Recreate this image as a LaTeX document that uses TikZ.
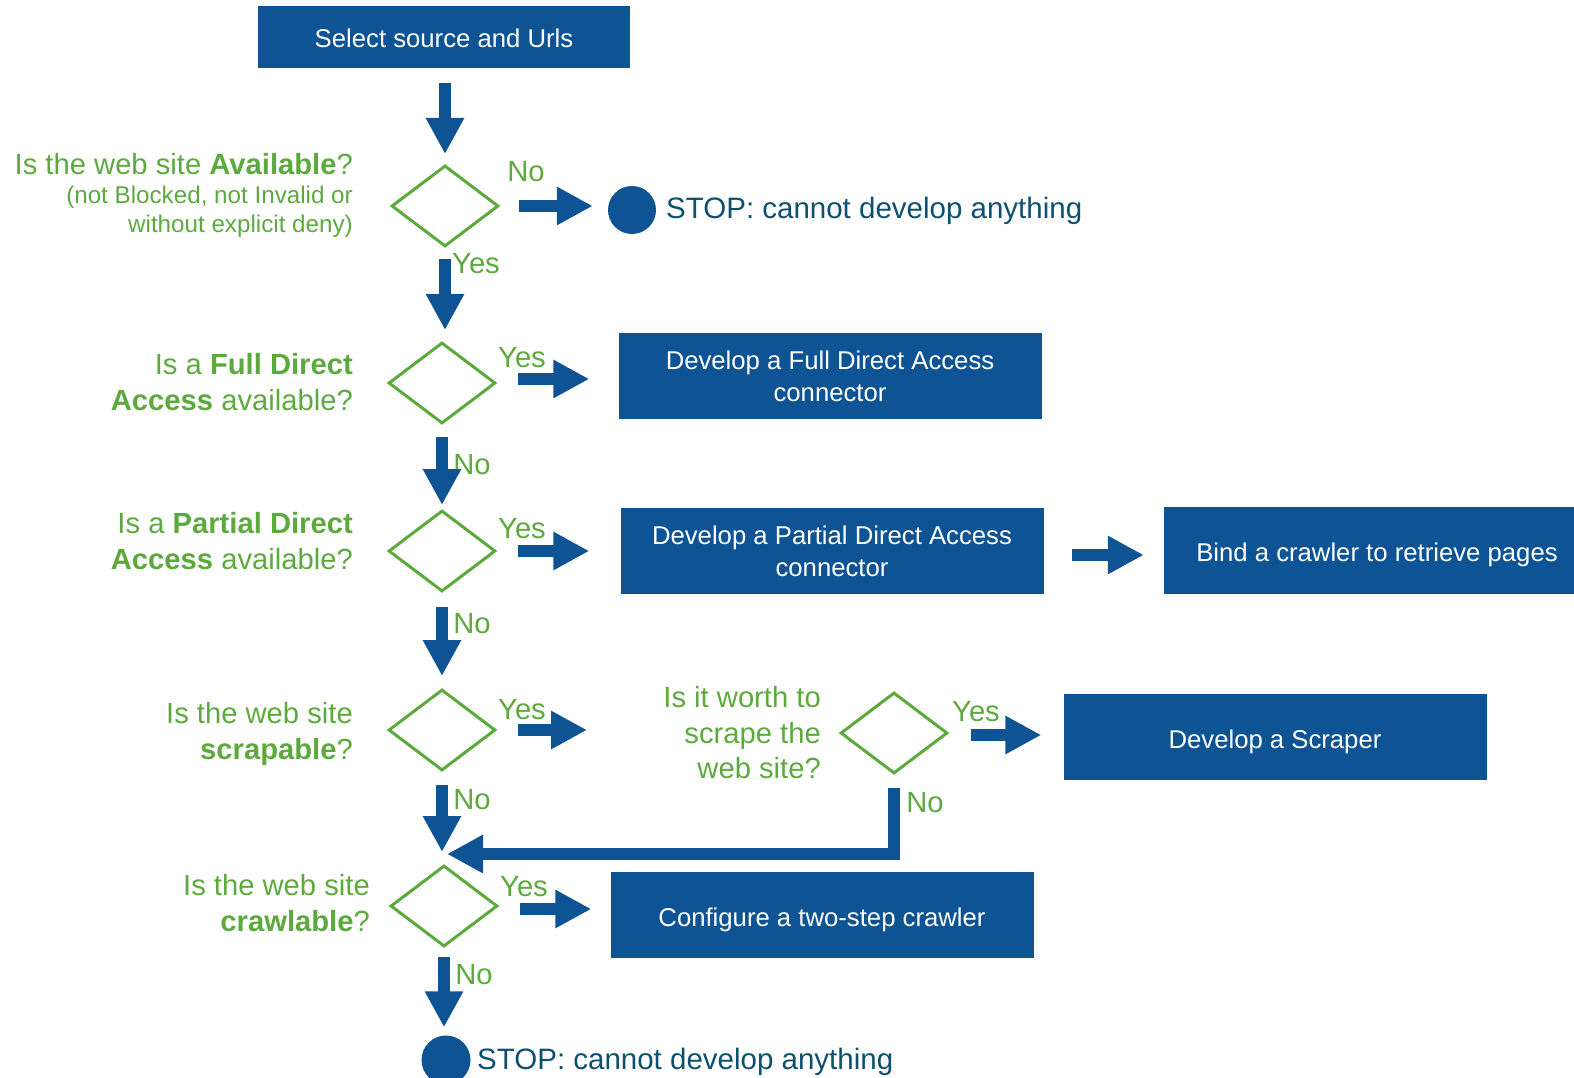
\documentclass[tikz,border=0pt]{standalone}
\usepackage{fontspec}
\setmainfont{Liberation Sans}
\usetikzlibrary{shapes.geometric,arrows.meta}
\definecolor{bluec}{RGB}{14,83,148}
\definecolor{greenc}{RGB}{92,170,62}
\definecolor{tealc}{RGB}{14,80,112}
\newcommand\bxfont{\fontsize{25.7}{32}\selectfont}
\newcommand\qsfont{\fontsize{29.2}{35.5}\selectfont}
\newcommand\subqfont{\fontsize{24.2}{29}\selectfont}
\newcommand\stfont{\fontsize{29.5}{35}\selectfont}
\tikzset{
  box/.style={fill=bluec, text=white, font=\bxfont, align=center, inner sep=0pt,
              minimum width=423pt, minimum height=86pt},
  oneline/.style={text height=22pt, text depth=0pt},
  dia/.style={diamond, draw=greenc, line width=3pt, inner sep=0pt,
              minimum width=107pt, minimum height=81pt},
  qlabel/.style={text=greenc, font=\qsfont, align=right, anchor=east, inner sep=0pt},
  sublabel/.style={text=greenc, font=\subqfont, align=right, anchor=east, inner sep=0pt},
  yn/.style={text=greenc, font=\qsfont, inner sep=0pt},
  blk/.style={draw=bluec, line width=11.5pt, line join=miter,
              -{Triangle[length=36pt,width=36pt]}},
  stopdot/.style={circle, fill=bluec, minimum size=48pt, inner sep=0pt},
  stoptxt/.style={text=tealc, font=\stfont, anchor=west, inner sep=0pt}
}
\begin{document}
\begin{tikzpicture}[x=1pt, y=-1pt]
\useasboundingbox (0,0) rectangle (1574,1078);
\clip (0,0) rectangle (1574,1078);

% start
\node[box, oneline, minimum width=372pt, minimum height=62pt] (box1) at (444,37) {Select source and Urls};

% decision 1: availability
\node[dia] (d1) at (445,206) {};
\node[qlabel] (q1) at (353,164) {Is the web site \textbf{Available}?};
\node[sublabel] (q1s) at (353,212) {(not Blocked, not Invalid or\\without explicit deny)};
\node[stopdot] (stop1) at (632,210) {};
\node[stoptxt] (stop1t) at (666,211) {STOP: cannot develop anything};
\node[yn] (n1) at (526,172) {No};
\node[yn] (y1) at (476,264) {Yes};

% decision 2: full direct access
\node[dia] (d2) at (442,383) {};
\node[qlabel] (q2) at (353,382) {Is a \textbf{Full Direct}\\\textbf{Access} available?};
\node[box] (box2) at (830,376) {Develop a Full Direct Access\\connector};
\node[yn] (y2) at (522,358) {Yes};
\node[yn] (n2) at (472,465) {No};

% decision 3: partial direct access
\node[dia] (d3) at (442,551) {};
\node[qlabel] (q3) at (353,541) {Is a \textbf{Partial Direct}\\\textbf{Access} available?};
\node[box] (box3) at (832,551) {Develop a Partial Direct Access\\connector};
\node[box, oneline, minimum width=426pt, minimum height=87pt] (box4) at (1377,550) {Bind a crawler to retrieve pages};
\node[yn] (y3) at (522,529) {Yes};
\node[yn] (n3) at (472,624) {No};

% decision 4: scrapable
\node[dia] (d4) at (442,730) {};
\node[qlabel] (q4) at (353,734) {Is the web site\\\textbf{scrapable}?};
\node[yn] (y4) at (522,710) {Yes};
\node[yn] (n4) at (472,800) {No};

% decision 5: worth scraping
\node[dia] (d5) at (894,733) {};
\node[qlabel] (q5) at (821,733) {Is it worth to\\scrape the\\web site?};
\node[box, oneline] (box5) at (1275,737) {Develop a Scraper};
\node[yn] (y5) at (976,712) {Yes};
\node[yn] (n5) at (925,803) {No};

% decision 6: crawlable
\node[dia] (d6) at (444,906) {};
\node[qlabel] (q6) at (370,903) {Is the web site\\\textbf{crawlable}?};
\node[box, oneline] (box6) at (822,915) {Configure a two-step crawler};
\node[yn] (y6) at (524,887) {Yes};
\node[yn] (n6) at (474,975) {No};

% final stop
\node[stopdot, minimum size=49pt] (stop2) at (446,1060) {};
\node[stoptxt] (stop2t) at (477,1062) {STOP: cannot develop anything};

% connectors
\draw[blk, shorten <=15pt, shorten >=10pt] (box1.south -| d1.north) -- (d1.north);
\draw[blk, shorten <=19pt, shorten >=15pt] (d1.east) -- (d1.east -| stop1.west);
\draw[blk, shorten <=11pt, shorten >=11pt] (d1.south) -- (d1.south |- d2.north);

\draw[blk, shorten <=21pt, shorten >=29pt] ([yshift=4pt]d2.east) -- ([yshift=4pt]d2.east -| box2.west);
\draw[blk, shorten <=12pt, shorten >=4pt] (d2.south) -- (d3.north);

\draw[blk, shorten <=21pt, shorten >=31pt] (d3.east) -- (d3.east -| box3.west);
\draw[blk, shorten <=28pt, shorten >=20pt] ([yshift=-4pt]box3.east) -- ([yshift=-4pt]box3.east -| box4.west);
\draw[blk, shorten <=14pt, shorten >=12pt] (d3.south) -- (d4.north);

\draw[blk, shorten <=21pt, shorten >=252pt] (d4.east) -- (d4.east -| d5.west);
\draw[blk, shorten <=22pt, shorten >=22pt] ([yshift=-2pt]d5.east) -- ([yshift=-2pt]d5.east -| box5.west);
\draw[blk, shorten <=13pt, shorten >=12pt] (d4.south) -- (d4.south |- d6.north);
\draw[blk] ([yshift=-13pt]d5.south) |- ([xshift=3pt, yshift=10pt]d6.north);

\draw[blk, shorten <=21pt, shorten >=19pt] ([yshift=-3pt]d6.east) -- ([yshift=-3pt]d6.east -| box6.west);
\draw[blk, shorten <=9pt, shorten >=8pt] (d6.south) -- (d6.south |- stop2.north);
\end{tikzpicture}
\end{document}
